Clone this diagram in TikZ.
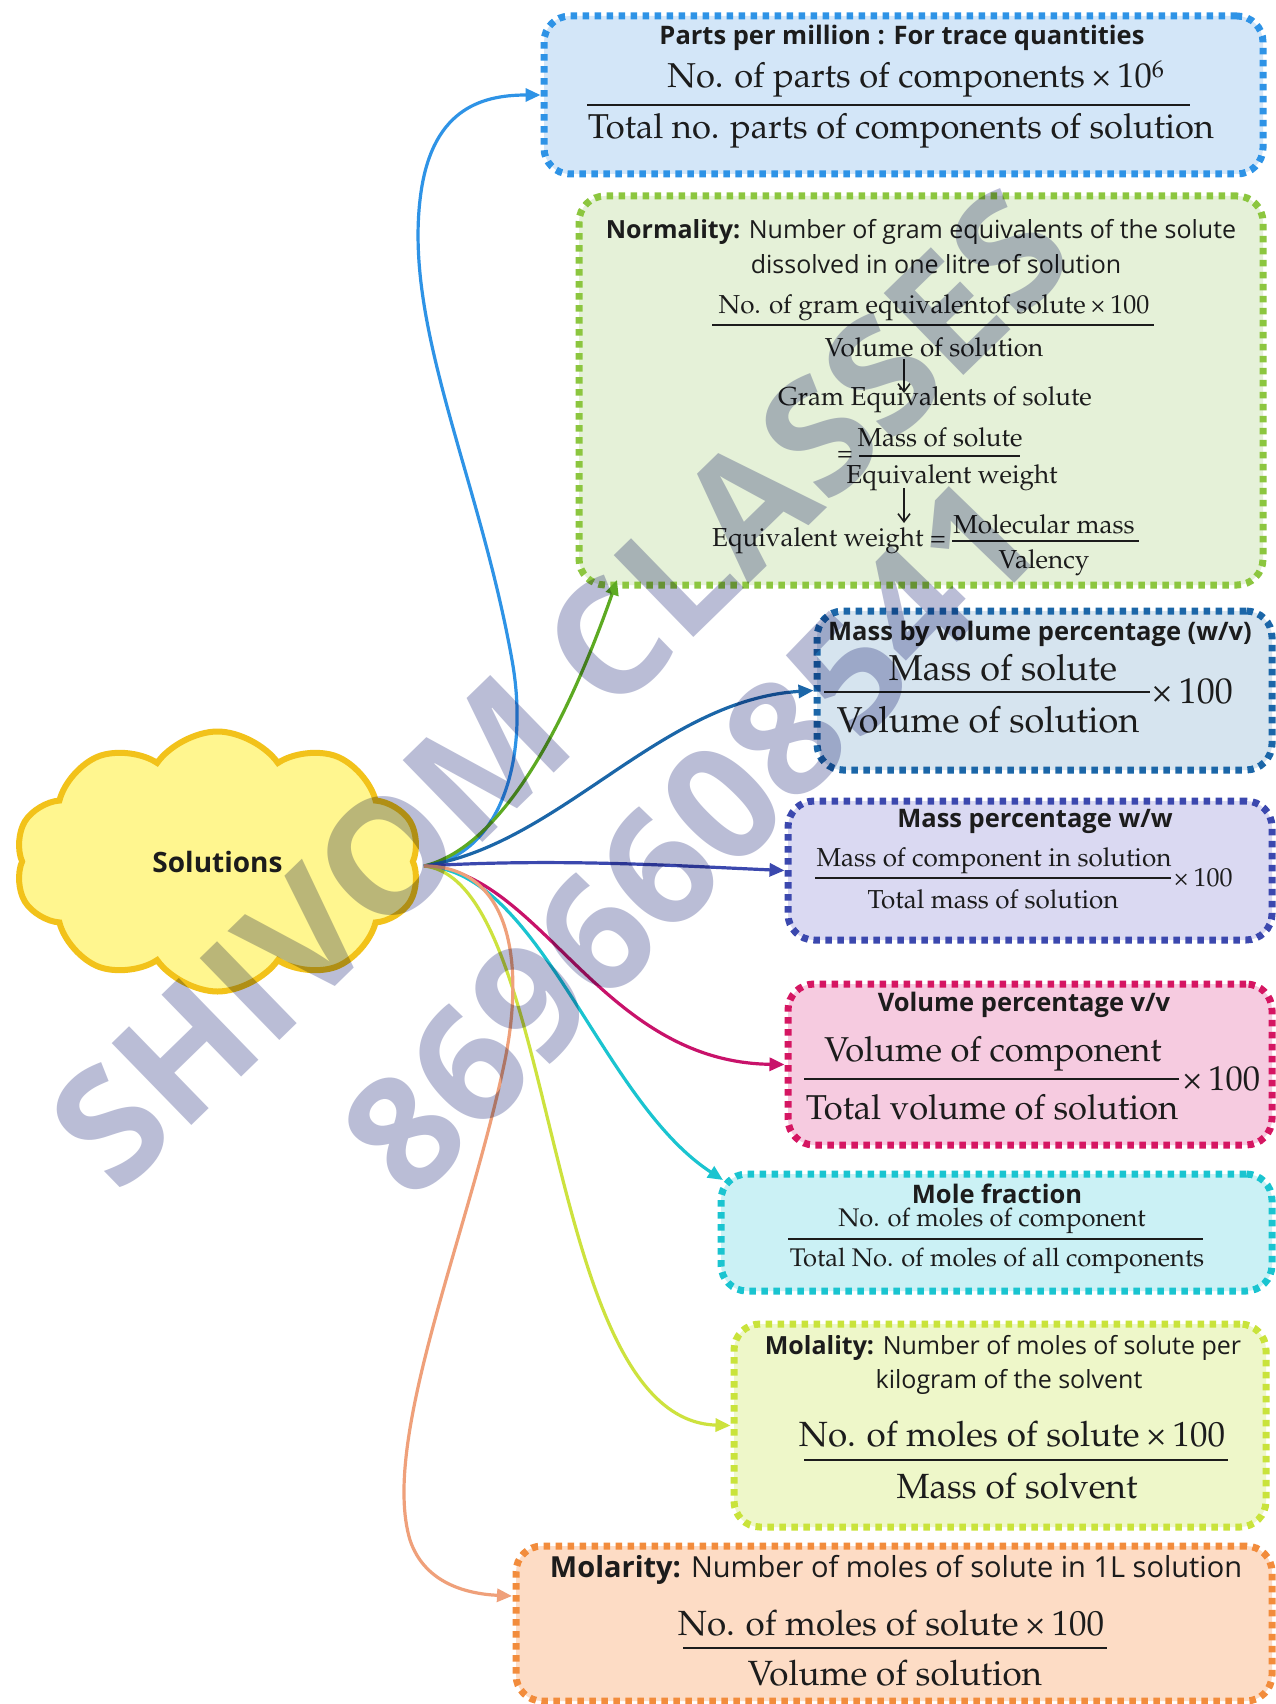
\documentclass[tikz,border=0pt]{standalone}
\usepackage[T1]{fontenc}
\usepackage{fontspec}
\newfontfamily\osans{Open Sans}
\usetikzlibrary{arrows.meta,shapes.symbols}
\newcommand\palf[1]{\fontencoding{T1}\fontfamily{ppl}\fontsize{#1}{#1}\selectfont}
\newcommand\sansf[1]{\osans\fontsize{#1}{#1}\selectfont}
\newcommand\tms{\,\texttimes\,}
\definecolor{ink}{HTML}{1C1C1C}
\definecolor{ppmB}{HTML}{2E93E6}\definecolor{ppmF}{HTML}{D3E6F8}
\definecolor{normB}{HTML}{8CC63F}\definecolor{normF}{HTML}{E5F1D8}\definecolor{normA}{HTML}{5DAA22}
\definecolor{wvB}{HTML}{1B66A8}\definecolor{wvF}{HTML}{D6E4EF}
\definecolor{wwB}{HTML}{3B48AE}\definecolor{wwF}{HTML}{DAD9F2}
\definecolor{vvB}{HTML}{D51662}\definecolor{vvF}{HTML}{F6CBE0}\definecolor{vvA}{HTML}{C8126A}
\definecolor{mfB}{HTML}{1AC4D0}\definecolor{mfF}{HTML}{CBF1F5}
\definecolor{mlB}{HTML}{C9E33B}\definecolor{mlF}{HTML}{EEF7C9}\definecolor{mlA}{HTML}{CDE23E}
\definecolor{mrB}{HTML}{F28C3C}\definecolor{mrF}{HTML}{FDDCC5}\definecolor{mrA}{HTML}{EFA07A}
\definecolor{cloudB}{HTML}{F2C21A}\definecolor{cloudF}{HTML}{FFF68F}
\definecolor{wmC}{RGB}{186,189,214}
\tikzset{
  panel/.style 2 args={draw=#1, fill=#2, line width=7pt, dash pattern=on 6.5pt off 5.5pt,
    rounded corners=26pt, inner sep=0pt, shape=rectangle},
  conn/.style={line width=3.2pt, -{Triangle[length=15pt,width=13pt]}},
  fx/.style={inner sep=0pt, text=ink, font=\palf{#1}},
  sx/.style={inner sep=0pt, text=ink, font=\sansf{#1}},
  frule/.style={line width=1.6pt, draw=ink},
  downarr/.style={line width=1.6pt, draw=ink, -{Straight Barb[length=8pt,width=12pt]}},
  wm/.style={inner sep=0pt, text=wmC, font=\sansf{160}\bfseries},
}
\begin{document}
\begin{tikzpicture}[x=1pt,y=-1pt]
\fill[white] (0,0) rectangle (1275,1704);
\useasboundingbox (0,0) rectangle (1275,1704);

% ---------- panels ----------
\node[panel={ppmB}{ppmF}, minimum width=719pt, minimum height=158pt] (ppm) at (903.5,95) {};
\node[panel={normB}{normF}, minimum width=684pt, minimum height=389pt] (norm) at (921,390.5) {};
\node[panel={wvB}{wvF}, minimum width=455pt, minimum height=159pt] (wv) at (1044.5,690.5) {};
\node[panel={wwB}{wwF}, minimum width=484pt, minimum height=139pt] (ww) at (1030,870.5) {};
\node[panel={vvB}{vvF}, minimum width=484pt, minimum height=161pt] (vv) at (1030,1064.5) {};
\node[panel={mfB}{mfF}, minimum width=551pt, minimum height=117pt] (mf) at (996.5,1232.5) {};
\node[panel={mlB}{mlF}, minimum width=532pt, minimum height=203pt] (ml) at (1000,1425.5) {};
\node[panel={mrB}{mrF}, minimum width=756pt, minimum height=155pt] (mr) at (894,1623.5) {};

% ---------- central cloud ----------
\node[cloud, cloud puffs=10, cloud puff arc=110, aspect=1.55, draw=cloudB, fill=cloudF,
      line width=6pt, minimum width=405pt, minimum height=260pt, inner sep=0pt,
      text=ink, font=\sansf{28}\bfseries] (sol) at (217.5,861.5) {Solutions};
\coordinate (hub) at (424,866);
\coordinate (nEnd) at (617,580);
\coordinate (mfEnd) at (723,1180);
\coordinate (mrEnd) at (512,1596);

% ---------- connectors ----------
\draw[conn, ppmB] (hub) .. controls (500,856) and (530,760) .. (512,660)
   .. controls (480,480) and (405,330) .. (420,200)
   .. controls (430,110) and (480,95) .. (ppm.west);
\draw[conn, normA] (hub) .. controls (510,845) and (575,700) .. (nEnd);
\draw[conn, wvB] (hub) .. controls (560,845) and (660,700) .. (wv.west);
\draw[conn, wwB] (hub) .. controls (560,858) and (680,866) .. (ww.west);
\draw[conn, vvA] (hub) .. controls (540,870) and (600,1062) .. (vv.west);
\draw[conn, mfB] (hub) .. controls (540,870) and (600,1100) .. (mfEnd);
\draw[conn, mlA] (hub) .. controls (560,880) and (540,1420) .. (ml.west);
\draw[conn, mrA] (hub) .. controls (510,866) and (525,960) .. (505,1060)
   .. controls (470,1230) and (380,1440) .. (410,1540)
   .. controls (425,1585) and (470,1594) .. (mrEnd);

% ---------- PPM ----------
\node[sx=25.5, font=\sansf{25.5}\bfseries] (ppmT) at (902,38) {Parts per million : For trace quantities};
\node[fx=34.5] (ppmN) at (916,79) {No. of parts of components\tms 10\textsuperscript{6}};
\draw[frule] (587,105) -- (1190,105);
\node[fx=34.5] (ppmD) at (901,131) {Total no. parts of components of solution};

% ---------- Normality ----------
\node[sx=25] (normT) at (921,232) {\textbf{Normality:} Number of gram equivalents of the solute};
\node[sx=25] (normT2) at (936,264) {dissolved in one litre of solution};
\node[fx=26] (normN) at (934,308) {No. of gram equivalentof solute\tms 100};
\draw[frule] (712,325) -- (1154,325);
\node[fx=26] (normD) at (934,347) {Volume of solution};
\draw[downarr] (904,359) -- (904,393);
\node[fx=26] (gram) at (935,400) {Gram Equivalents of solute};
\node[fx=26] (eqs) at (845,456) {=};
\node[fx=26] (massN) at (940,437) {Mass of solute};
\draw[frule] (859,456) -- (1020,456);
\node[fx=26] (massD) at (952,478) {Equivalent weight};
\draw[downarr] (904,488) -- (904,523);
\node[fx=26] (eqw) at (829,541) {Equivalent weight =};
\node[fx=26] (molN) at (1044,524) {Molecular mass};
\draw[frule] (952,541) -- (1139,541);
\node[fx=26] (valD) at (1044,563) {Valency};

% ---------- w/v ----------
\node[sx=25.5, font=\sansf{25.5}\bfseries] (wvT) at (1040,634) {Mass by volume percentage (w/v)};
\node[fx=36] (wvN) at (1003,668) {Mass of solute};
\draw[frule] (824,692) -- (1150,692);
\node[fx=36] (wvD) at (988,720) {Volume of solution};
\node[fx=36] (wvX) at (1192,691) {\texttimes\,100};

% ---------- w/w ----------
\node[sx=25.5, font=\sansf{25.5}\bfseries] (wwT) at (1035,821) {Mass percentage w/w};
\node[fx=26] (wwN) at (994,861) {Mass of component in solution};
\draw[frule] (815,878) -- (1171,878);
\node[fx=26] (wwD) at (993,899) {Total mass of solution};
\node[fx=26] (wwX) at (1203,878) {\texttimes\,100};

% ---------- v/v ----------
\node[sx=25.5, font=\sansf{25.5}\bfseries] (vvT) at (1024,1005) {Volume percentage v/v};
\node[fx=34.5] (vvN) at (993,1054) {Volume of component};
\draw[frule] (804,1079) -- (1179,1079);
\node[fx=34.5] (vvD) at (992,1107) {Total volume of solution};
\node[fx=34.5] (vvX) at (1221,1079) {\texttimes\,100};

% ---------- mole fraction ----------
\node[sx=25.5, font=\sansf{25.5}\bfseries] (mfT) at (997,1194) {Mole fraction};
\node[fx=25.5] (mfN) at (992,1221) {No. of moles of component};
\draw[frule] (788,1239) -- (1203,1239);
\node[fx=25.5] (mfD) at (997,1261) {Total No. of moles of all components};

% ---------- molality ----------
\node[sx=25] (mlT) at (1003,1348) {\textbf{Molality:} Number of moles of solute per};
\node[sx=25] (mlT2) at (1009,1382) {kilogram of the solvent};
\node[fx=35] (mlN) at (1012,1434) {No. of moles of solute\tms 100};
\draw[frule] (804,1460) -- (1228,1460);
\node[fx=35] (mlD) at (1017,1486) {Mass of solvent};

% ---------- molarity ----------
\node[sx=29] (mrT) at (896,1570) {\textbf{Molarity:} Number of moles of solute in 1L solution};
\node[fx=35] (mrN) at (891,1623) {No. of moles of solute\tms 100};
\draw[frule] (683,1648) -- (1107,1648);
\node[fx=35] (mrD) at (895,1673) {Volume of solution};

% ---------- watermark ----------
\begin{scope}[blend mode=multiply]
\node[wm, rotate=44.2] (wm1) at (560,688) {SHIVOM CLASSES};
\node[wm, rotate=46] (wm2) at (690,837) {8696608541};
\end{scope}
\end{tikzpicture}
\end{document}
